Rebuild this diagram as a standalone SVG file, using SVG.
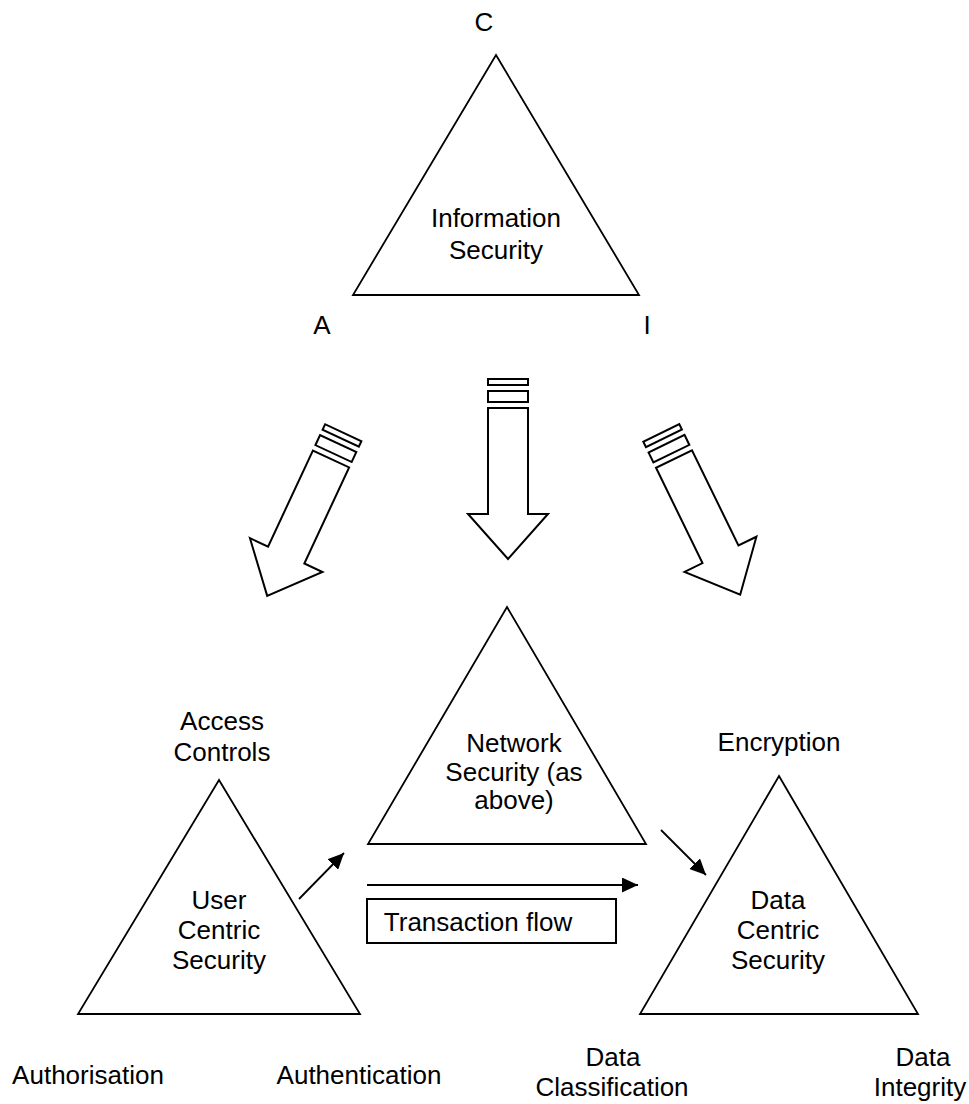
<svg xmlns="http://www.w3.org/2000/svg" width="969" height="1104" viewBox="0 0 969 1104">
<style>
.tri{fill:none;stroke:#000;stroke-width:1.8;stroke-linejoin:miter}
.blk{fill:#fff;stroke:#000;stroke-width:2}
.ln{fill:none;stroke:#000;stroke-width:1.8}
text{font-family:"Liberation Sans",Arial,sans-serif;font-size:26px;fill:#000;text-anchor:middle}
</style>
<defs>
<marker id="ah" viewBox="0 0 10 10" refX="10" refY="5" markerWidth="8.5" markerHeight="8" markerUnits="userSpaceOnUse" orient="auto" preserveAspectRatio="none">
<path d="M0,0 L10,5 L0,10 Z" fill="#000"/>
</marker>
<marker id="ah2" viewBox="0 0 10 10" refX="10" refY="5" markerWidth="16" markerHeight="15" markerUnits="userSpaceOnUse" orient="auto" preserveAspectRatio="none">
<path d="M0,0 L10,5 L0,10 Z" fill="#000"/>
</marker>
<g id="blockArrow">
<path d="M-20,0 L-20,106 L-40,106 L0,151 L40,106 L20,106 L20,0 Z"/>
<rect x="-20" y="-17" width="40" height="11"/>
<rect x="-20" y="-29" width="40" height="6"/>
</g>
</defs>
<rect width="969" height="1104" fill="#fff"/>

<g id="info-security">
<polygon class="tri" points="496,55 639,295 353,295"/>
<text x="496" y="227">Information</text>
<text x="496" y="259">Security</text>
<text x="484" y="31">C</text>
<text x="322" y="334">A</text>
<text x="647" y="334">I</text>
</g>

<g id="network-security">
<polygon class="tri" points="507,607 646,844 368,844"/>
<text x="514" y="752">Network</text>
<text x="514" y="781">Security (as</text>
<text x="514" y="809">above)</text>
</g>

<g id="user-centric">
<polygon class="tri" points="219,780 360,1014 78,1014"/>
<text x="219" y="909">User</text>
<text x="219" y="939">Centric</text>
<text x="219" y="969">Security</text>
<text x="222" y="730">Access</text>
<text x="222" y="761">Controls</text>
<text x="88" y="1084">Authorisation</text>
<text x="359" y="1084">Authentication</text>
</g>

<g id="data-centric">
<polygon class="tri" points="779,776 918,1014 640,1014"/>
<text x="778" y="909">Data</text>
<text x="778" y="939">Centric</text>
<text x="778" y="969">Security</text>
<text x="779" y="751">Encryption</text>
<text x="613" y="1066">Data</text>
<text x="612" y="1096">Classification</text>
<text x="923" y="1066">Data</text>
<text x="920" y="1096">Integrity</text>
</g>

<g id="transaction-flow">
<rect x="367" y="899" width="249" height="44" fill="#fff" stroke="#000" stroke-width="2"/>
<text x="478" y="931">Transaction flow</text>
</g>

<g id="connectors">
<use href="#blockArrow" class="blk" transform="translate(331,459) rotate(25)"/>
<use href="#blockArrow" class="blk" transform="translate(508,408)"/>
<use href="#blockArrow" class="blk" transform="translate(674,459) rotate(-26)"/>
<line class="ln" x1="299" y1="899" x2="344" y2="853" marker-end="url(#ah2)"/>
<line class="ln" x1="367" y1="885" x2="638" y2="885" marker-end="url(#ah2)"/>
<line class="ln" x1="661" y1="830" x2="706" y2="875" marker-end="url(#ah2)"/>
</g>
</svg>
